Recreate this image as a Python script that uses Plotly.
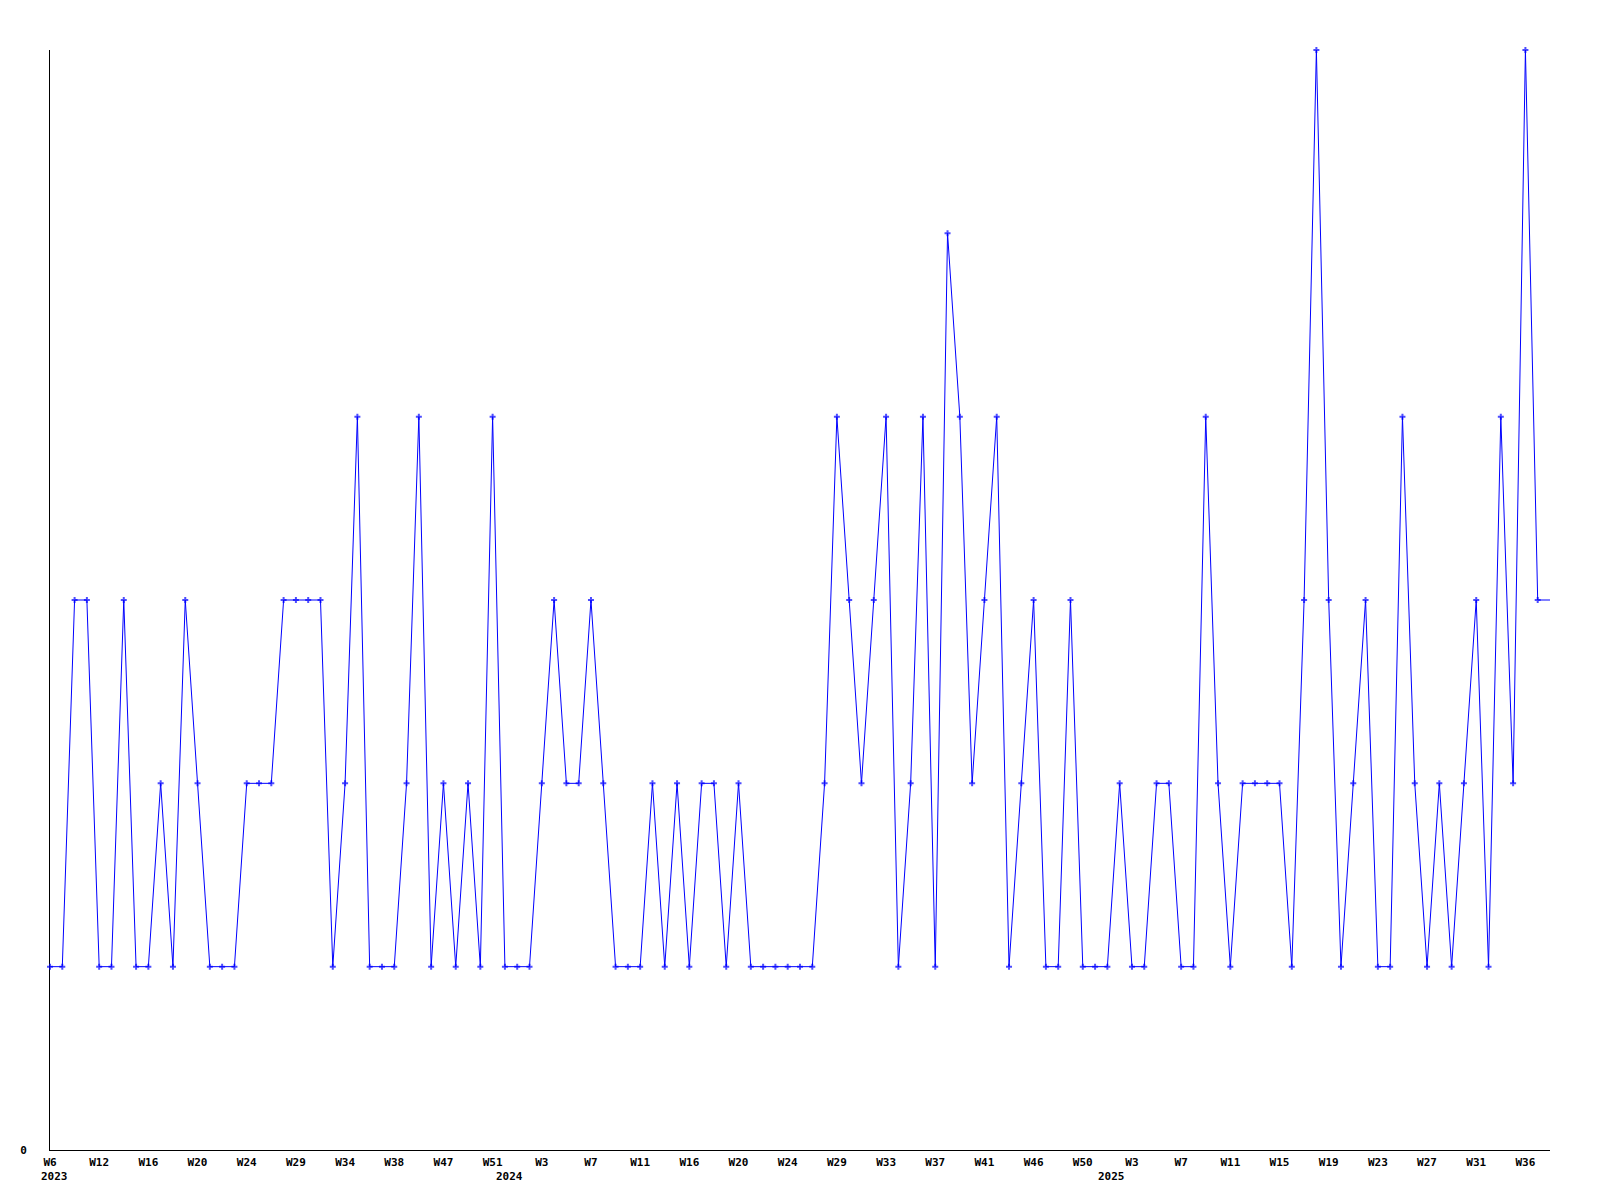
import plotly.graph_objects as go

# ---- data ----
values = [1, 1, 3, 3, 1, 1, 3, 1, 1, 2, 1, 3, 2, 1, 1, 1, 2, 2, 2, 3,
          3, 3, 3, 1, 2, 4, 1, 1, 1, 2, 4, 1, 2, 1, 2, 1, 4, 1, 1, 1,
          2, 3, 2, 2, 3, 2, 1, 1, 1, 2, 1, 2, 1, 2, 2, 1, 2, 1, 1, 1,
          1, 1, 1, 2, 4, 3, 2, 3, 4, 1, 2, 4, 1, 5, 4, 2, 3, 4, 1, 2,
          3, 1, 1, 3, 1, 1, 1, 2, 1, 1, 2, 2, 1, 1, 4, 2, 1, 2, 2, 2,
          2, 1, 3, 6, 3, 1, 2, 3, 1, 1, 4, 2, 1, 2, 1, 2, 3, 1, 4, 2,
          6, 3, 3]

week_labels = ["W6", "W12", "W16", "W20", "W24", "W29", "W34", "W38", "W47", "W51",
               "W3", "W7", "W11", "W16", "W20", "W24", "W29", "W33", "W37", "W41",
               "W46", "W50", "W3", "W7", "W11", "W15", "W19", "W23", "W27", "W31",
               "W36"]
week_label_index = [4 * k for k in range(len(week_labels))]

year_labels = ["2023", "2024", "2025"]
year_label_index = [0, 37, 86]

x = list(range(len(values)))
marker_sizes = [5] * (len(values) - 1) + [0]

FONT = dict(family="DejaVu Sans Mono, Liberation Mono, monospace", size=11,
            color="black", weight="bold")

fig = go.Figure()
fig.add_trace(go.Scatter(
    x=x, y=values, mode="lines+markers",
    line=dict(color="#0000ff", width=1),
    marker=dict(symbol="cross", size=marker_sizes, color="#0000ff",
                line=dict(width=0)),
    cliponaxis=False,
    showlegend=False, hoverinfo="x+y",
))

for lbl, idx in zip(year_labels, year_label_index):
    fig.add_annotation(x=idx, y=0, xref="x", yref="paper", text=lbl,
                       showarrow=False, xanchor="left", yanchor="top",
                       xshift=-11, yshift=-18, font=FONT)

fig.update_layout(
    width=1592, height=1192,
    margin=dict(l=42, r=50, t=42, b=50),
    paper_bgcolor="white", plot_bgcolor="white",
    font=FONT,
)
fig.update_xaxes(
    range=[0, len(values) - 1], showgrid=False, zeroline=False,
    showline=True, linecolor="black", linewidth=1, layer="below traces",
    tickmode="array", tickvals=week_label_index, ticktext=week_labels,
    ticks="", tickfont=FONT, ticklabelstandoff=2,
)
fig.update_yaxes(
    range=[0, 6], showgrid=False, zeroline=False,
    showline=True, linecolor="black", linewidth=1, layer="below traces",
    tickmode="array", tickvals=[0], ticktext=["0"],
    ticks="", tickfont=FONT, ticklabelstandoff=20,
)

fig.write_html("out.html")
